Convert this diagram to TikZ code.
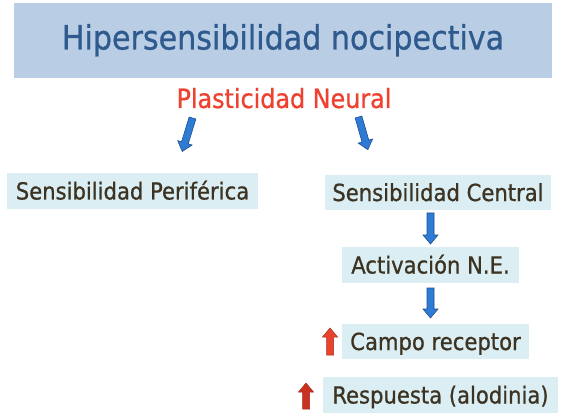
\documentclass[tikz,border=0pt]{standalone}
\usepackage{fontspec}
\setmainfont{DejaVu Sans Condensed}[FakeBold=0.8]
\definecolor{titlefill}{HTML}{B9CDE5}
\definecolor{titleblue}{HTML}{2F5A8E}
\definecolor{plasred}{HTML}{EE4130}
\definecolor{darktext}{HTML}{3D3322}
\definecolor{boxfill}{HTML}{DAEEF3}
\definecolor{arrblue}{HTML}{2E7BD6}
\definecolor{arrblueline}{HTML}{1F4F8F}
\definecolor{arrred}{HTML}{E8432C}
\definecolor{arrdarkred}{HTML}{C8331F}
\definecolor{arrredline}{HTML}{A82A1A}
\tikzset{
  titlebox/.style={fill=titlefill, text=titleblue, minimum width=538pt, minimum height=75pt,
    inner sep=0pt, font=\fontsize{33.5}{36}\selectfont, text height=24pt, text depth=6pt},
  lbox/.style={fill=boxfill, text=darktext, inner sep=0pt,
    font=\fontsize{23.5}{26}\selectfont, text height=17pt, text depth=0pt},
  bluearrow/.style={fill=arrblue, draw=arrblueline, line width=0.6pt, line join=miter},
  redarrow/.style={fill=arrred, draw=arrredline, line width=0.5pt, line join=miter},
  darkredarrow/.style={fill=arrdarkred, draw=arrredline, line width=0.5pt, line join=miter},
  pics/barrow/.style={code={
    \path[pic actions] (-3.5,0) -- (3.5,0) -- (3.5,#1-9) -- (7.5,#1-9) -- (0,#1)
      -- (-7.5,#1-9) -- (-3.5,#1-9) -- cycle;
  }}
}
\begin{document}
\begin{tikzpicture}[x=1pt,y=-1pt]
\useasboundingbox (0,0) rectangle (562,414);
\fill[white] (0,0) rectangle (562,414);

\node[titlebox] (title) at (283,40.5) {Hipersensibilidad nocipectiva};
\node[text=plasred, anchor=base, inner sep=0pt, font=\fontsize{26.5}{30}\selectfont] (plas) at (284,108) {Plasticidad Neural};

\node[lbox, minimum width=251pt, minimum height=36pt] (peri) at (132.5,191) {Sensibilidad Periférica};
\node[lbox, minimum width=226pt, minimum height=35pt] (central) at (438,192.5) {Sensibilidad Central};
\node[lbox, minimum width=177pt, minimum height=36pt] (activ) at (430.5,265) {Activación N.E.};
\node[lbox, minimum width=187pt, minimum height=35pt] (campo) at (435.5,341.5) {Campo receptor};
\node[lbox, minimum width=235pt, minimum height=36pt] (resp) at (440.5,395) {Respuesta (alodinia)};

% block arrows
\pic[bluearrow, rotate=-17] at (192.5,118) {barrow=35};
\pic[bluearrow, rotate=16] at (358.5,117) {barrow=34};
\pic[bluearrow] at (430.5,213) {barrow=31};
\pic[bluearrow] at (430.5,288) {barrow=30};
\pic[redarrow, rotate=180] at (330,355) {barrow=27};
\pic[darkredarrow, rotate=180] at (306,409) {barrow=26};
\end{tikzpicture}
\end{document}
